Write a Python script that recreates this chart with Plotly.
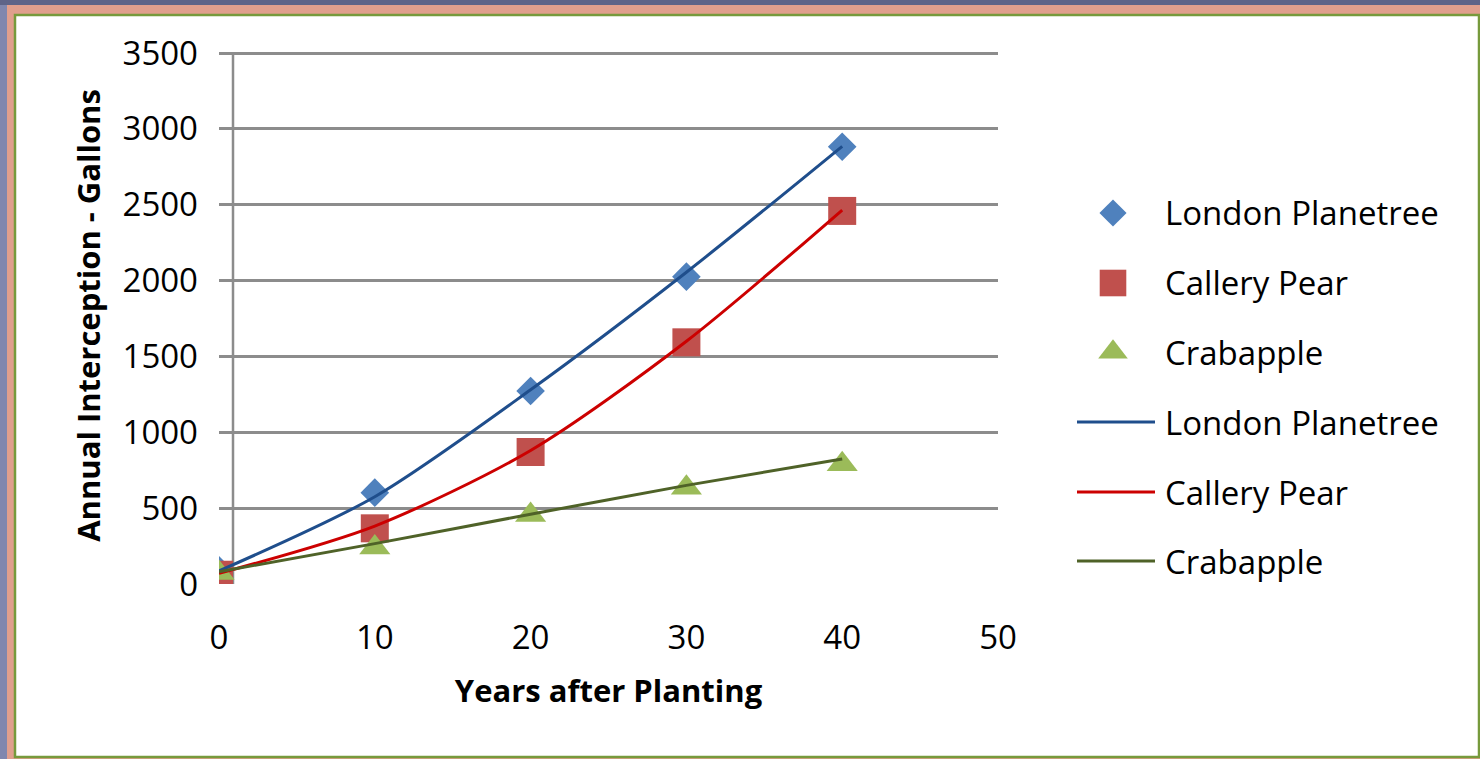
import plotly.graph_objects as go

# Canvas size in pixels
W, H = 1480, 759

# Measured interception (gallons per year) by tree age
years = [0, 10, 20, 30, 40]
london = [90, 602, 1272, 2026, 2882]
pear = [61, 367, 870, 1593, 2459]
crab = [72, 240, 455, 635, 790]

# Fitted trend values at the same ages
london_trend = [86, 575, 1280, 2055, 2885]
pear_trend = [70, 382, 880, 1600, 2465]
crab_trend = [81, 266, 460, 650, 824]

series_names = ["London Planetree", "Callery Pear", "Crabapple"]
x_ticks = [0, 10, 20, 30, 40, 50]
y_ticks = [0, 500, 1000, 1500, 2000, 2500, 3000, 3500]

marker_colors = ["#4f81bd", "#c0504d", "#9bbb59"]
marker_symbols = ["diamond", "square", "triangle-up"]
marker_sizes = [22, 28, 27]
line_colors = ["#1f4e8c", "#cc0000", "#4f6228"]

FONT = "Open Sans"

# y axis runs a little past the last tick so its gridline is kept
Y_MAX = 3540
PLOT_TOP = 53 - (Y_MAX - 3500) * 531 / 3500


def px(x):
    return x / W


def py(y):
    return 1 - y / H


fig = go.Figure()

# Point markers
for vals, name, col, sym, size in zip([london, pear, crab], series_names,
                                      marker_colors, marker_symbols, marker_sizes):
    fig.add_trace(go.Scatter(
        x=years, y=vals, mode="markers", name=name, showlegend=False,
        marker=dict(color=col, symbol=sym, size=size, line=dict(width=0)),
    ))

# Trend lines drawn over the markers
for vals, name, col in zip([london_trend, pear_trend, crab_trend], series_names, line_colors):
    fig.add_trace(go.Scatter(
        x=years, y=vals, mode="lines", name=name, showlegend=False,
        line=dict(color=col, width=3, shape="spline", smoothing=0.8),
    ))

# Legend symbols on a helper axis measured in pixels
leg_rows = [213, 283, 352, 422, 492, 561]
for i, (col, sym, size) in enumerate(zip(marker_colors, marker_symbols, marker_sizes)):
    fig.add_trace(go.Scatter(
        x=[1113], y=[leg_rows[i]], mode="markers", showlegend=False, hoverinfo="skip",
        xaxis="x2", yaxis="y2",
        marker=dict(color=col, symbol=sym, size=size * 0.95, line=dict(width=0)),
    ))
for i, col in enumerate(line_colors):
    fig.add_trace(go.Scatter(
        x=[1077, 1155], y=[leg_rows[i + 3]] * 2, mode="lines", showlegend=False,
        hoverinfo="skip", xaxis="x2", yaxis="y2",
        line=dict(color=col, width=3),
    ))

annotations = []
for i, name in enumerate(series_names + series_names):
    annotations.append(dict(
        x=px(1163), y=py(leg_rows[i]), xref="paper", yref="paper",
        text=name, showarrow=False, xanchor="left", yanchor="middle",
        font=dict(family=FONT, size=33, color="#000000"),
    ))

shapes = [
    # darker band across the top of the page
    dict(type="rect", xref="paper", yref="paper", x0=0, x1=1, y0=py(5), y1=1,
         fillcolor="#5e6488", line=dict(width=0), layer="below"),
    # salmon frame
    dict(type="rect", xref="paper", yref="paper", x0=px(7), x1=1, y0=0, y1=py(5),
         fillcolor="#e09f8d", line=dict(width=0), layer="below"),
    # white chart area with green border
    dict(type="rect", xref="paper", yref="paper", x0=px(15), x1=px(1479), y0=py(757), y1=py(15),
         fillcolor="#ffffff", line=dict(color="#779a3c", width=2.5), layer="below"),
    # vertical axis line
    dict(type="line", xref="paper", yref="paper", x0=px(233), x1=px(233),
         y0=py(584), y1=py(53), line=dict(color="#8c8c8c", width=2.5), layer="below"),
]

fig.update_layout(
    width=W, height=H,
    margin=dict(l=0, r=0, t=0, b=0, pad=0, autoexpand=False),
    paper_bgcolor="#8087ae",
    plot_bgcolor="rgba(0,0,0,0)",
    showlegend=False,
    font=dict(family=FONT, color="#000000"),
    xaxis=dict(
        domain=[px(219), px(998)], range=[0, 50], automargin=False,
        tickvals=x_ticks, ticktext=[str(v) for v in x_ticks],
        showgrid=False, zeroline=False, showline=False, ticks="",
        tickfont=dict(family=FONT, size=33), ticklabelstandoff=31,
        title=dict(text="<b>Years after Planting</b>", standoff=22,
                   font=dict(family=FONT, size=31)),
        anchor="y", fixedrange=True,
    ),
    yaxis=dict(
        domain=[py(584), py(PLOT_TOP)], range=[0, Y_MAX], automargin=False,
        tickvals=y_ticks, ticktext=[str(v) for v in y_ticks],
        showgrid=True, gridcolor="#8c8c8c", gridwidth=2.5,
        zeroline=False, showline=False, ticks="",
        tickfont=dict(family=FONT, size=33), ticklabelstandoff=20,
        title=dict(text="<b>Annual Interception - Gallons</b>", standoff=12,
                   font=dict(family=FONT, size=31)),
        anchor="x", fixedrange=True,
    ),
    xaxis2=dict(domain=[px(1060), px(1180)], range=[1060, 1180], visible=False,
                anchor="y2", fixedrange=True, automargin=False),
    yaxis2=dict(domain=[py(600), py(180)], range=[600, 180], visible=False,
                anchor="x2", fixedrange=True, automargin=False),
    shapes=shapes,
    annotations=annotations,
)

fig.write_html("out.html")
